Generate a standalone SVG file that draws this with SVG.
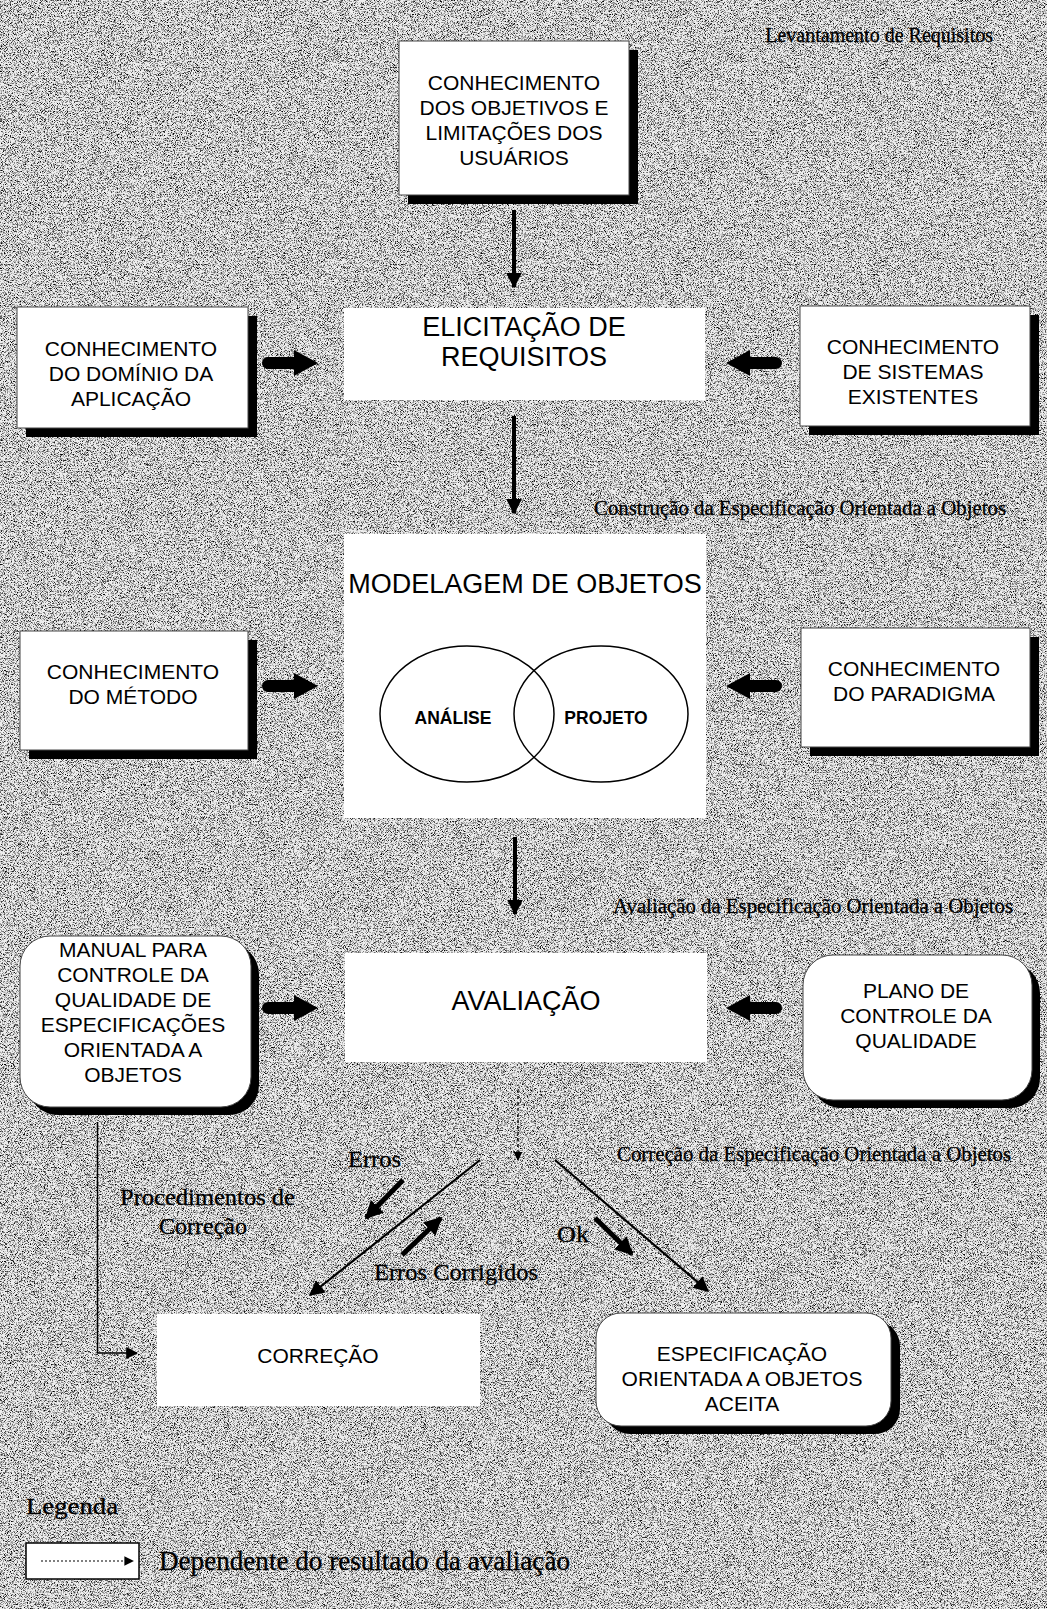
<svg xmlns="http://www.w3.org/2000/svg" width="1047" height="1609" viewBox="0 0 1047 1609">
<style>
.box{fill:#fff;stroke:#444;stroke-width:1}
.plain{fill:#fff}
.sh{fill:#000}
.t{font-family:"Liberation Sans",Arial,sans-serif;font-size:21px;fill:#000;text-anchor:middle}
.big{font-size:27px}
.b{font-weight:bold;font-size:17.5px}
.lbl{font-family:"Liberation Serif","Times New Roman",serif;fill:#000;stroke:#000;stroke-width:0.3}
.ln{stroke:#000;fill:none}
.thick{stroke:#000;stroke-width:5;fill:none}
</style>
<defs>
<filter id="grain" x="0" y="0" width="1" height="1">
<feTurbulence type="fractalNoise" baseFrequency="1.3" numOctaves="2" seed="7"/>
<feColorMatrix type="matrix" values="0 0 0 0 0  0 0 0 0 0  0 0 0 0 0  -3.2 0 0 0 1.72"/>
</filter>
<marker id="ah" viewBox="0 0 10 10" refX="9" refY="5" markerWidth="4" markerHeight="4" orient="auto" markerUnits="strokeWidth">
<path d="M0,0 L10,5 L0,10 Z" fill="#000"/>
</marker>
<marker id="ahd" viewBox="0 0 10 10" refX="9" refY="5" markerWidth="7" markerHeight="7" orient="auto" markerUnits="strokeWidth">
<path d="M0,0 L10,5 L0,10 Z" fill="#000"/>
</marker>
<marker id="ahs" viewBox="0 0 10 10" refX="9" refY="5" markerWidth="8" markerHeight="8" orient="auto" markerUnits="strokeWidth">
<path d="M0,0 L10,5 L0,10 Z" fill="#000"/>
</marker>
<marker id="aht" viewBox="0 0 10 10" refX="9" refY="5" markerWidth="3.6" markerHeight="3.6" orient="auto" markerUnits="strokeWidth">
<path d="M0,0 L10,5 L0,10 Z" fill="#000"/>
</marker>
<path id="fat" d="M-22,-6 L4,-6 L4,-13 L28,0 L4,13 L4,6 L-22,6 A6,6 0 0 1 -22,-6 Z" fill="#000"/>
</defs>

<rect x="0" y="0" width="1047" height="1609" fill="#eeeeee"/>
<rect x="0" y="0" width="1047" height="1609" filter="url(#grain)"/>

<g id="labels">
<text class="lbl" x="993" y="42" font-size="20" text-anchor="end">Levantamento de Requisitos</text>
<text class="lbl" x="1006" y="515" font-size="20" text-anchor="end" textLength="412" lengthAdjust="spacingAndGlyphs">Construção da Especificação Orientada a Objetos</text>
<text class="lbl" x="1013" y="913" font-size="20" text-anchor="end" textLength="400" lengthAdjust="spacingAndGlyphs">Avaliação da Especificação Orientada a Objetos</text>
<text class="lbl" x="1011" y="1161" font-size="20" text-anchor="end" textLength="394" lengthAdjust="spacingAndGlyphs">Correção da Especificação Orientada a Objetos</text>
<text class="lbl" x="348" y="1167" font-size="24" textLength="53" lengthAdjust="spacingAndGlyphs">Erros</text>
<text class="lbl" x="120" y="1205" font-size="23" textLength="175" lengthAdjust="spacingAndGlyphs">Procedimentos de</text>
<text class="lbl" x="159" y="1234" font-size="23" textLength="88" lengthAdjust="spacingAndGlyphs">Correção</text>
<text class="lbl" x="557" y="1242" font-size="24" textLength="32" lengthAdjust="spacingAndGlyphs">Ok</text>
<text class="lbl" x="374" y="1280" font-size="23" textLength="164" lengthAdjust="spacingAndGlyphs">Erros Corrigidos</text>
</g>

<g id="connectors">
<line class="ln" x1="514" y1="210" x2="514" y2="287" style="stroke-width:4" marker-end="url(#ah)"/>
<line class="ln" x1="514" y1="416" x2="514" y2="513" style="stroke-width:4" marker-end="url(#ah)"/>
<line class="ln" x1="515" y1="837" x2="515" y2="914" style="stroke-width:4" marker-end="url(#ah)"/>
<line class="ln" x1="518" y1="1090" x2="518" y2="1160" style="stroke-width:1.3;stroke-dasharray:3,3" marker-end="url(#ahd)"/>
<use href="#fat" x="290" y="363"/>
<use href="#fat" transform="translate(754,363) rotate(180)"/>
<use href="#fat" x="290" y="686"/>
<use href="#fat" transform="translate(754,686) rotate(180)"/>
<use href="#fat" x="290" y="1008"/>
<use href="#fat" transform="translate(754,1008) rotate(180)"/>
<line class="ln" x1="480" y1="1160" x2="310" y2="1295" style="stroke-width:2.2" marker-end="url(#ahd)"/>
<line class="ln" x1="555" y1="1160" x2="708" y2="1291" style="stroke-width:2.2" marker-end="url(#ahd)"/>
<line class="thick" x1="403" y1="1180" x2="366" y2="1218" marker-end="url(#aht)"/>
<line class="thick" x1="402" y1="1255" x2="441" y2="1218" marker-end="url(#aht)"/>
<line class="thick" x1="595" y1="1218" x2="632" y2="1254" marker-end="url(#aht)"/>
<polyline class="ln" points="97.5,1122 97.5,1353 137,1353" style="stroke-width:1.5" marker-end="url(#ahs)"/>
</g>

<g id="n_objetivos">
<rect class="sh" x="408" y="50" width="230" height="154"/>
<rect class="box" x="399" y="41" width="230" height="154"/>
<text class="t" x="514" y="90">CONHECIMENTO</text>
<text class="t" x="514" y="115">DOS OBJETIVOS E</text>
<text class="t" x="514" y="140">LIMITAÇÕES DOS</text>
<text class="t" x="514" y="165">USUÁRIOS</text>
</g>

<g id="n_dominio">
<rect class="sh" x="26" y="316" width="231" height="121"/>
<rect class="box" x="17" y="307" width="231" height="121"/>
<text class="t" x="131" y="356">CONHECIMENTO</text>
<text class="t" x="131" y="381">DO DOMÍNIO DA</text>
<text class="t" x="131" y="406">APLICAÇÃO</text>
</g>

<g id="n_elicitacao">
<rect class="plain" x="344" y="308" width="361" height="92"/>
<text class="t big" x="524" y="336">ELICITAÇÃO DE</text>
<text class="t big" x="524" y="366">REQUISITOS</text>
</g>

<g id="n_sistemas">
<rect class="sh" x="809" y="315" width="230" height="120"/>
<rect class="box" x="800" y="306" width="230" height="120"/>
<text class="t" x="913" y="354">CONHECIMENTO</text>
<text class="t" x="913" y="379">DE SISTEMAS</text>
<text class="t" x="913" y="404">EXISTENTES</text>
</g>

<g id="n_modelagem">
<rect class="plain" x="344" y="534" width="362" height="284"/>
<text class="t big" x="525" y="593">MODELAGEM DE OBJETOS</text>
<ellipse cx="467" cy="714" rx="87" ry="68" fill="none" stroke="#000" stroke-width="1.5"/>
<ellipse cx="601" cy="714" rx="87" ry="68" fill="none" stroke="#000" stroke-width="1.5"/>
<text class="t b" x="453" y="724">ANÁLISE</text>
<text class="t b" x="606" y="724">PROJETO</text>
</g>

<g id="n_metodo">
<rect class="sh" x="29" y="640" width="228" height="119"/>
<rect class="box" x="20" y="631" width="228" height="119"/>
<text class="t" x="133" y="679">CONHECIMENTO</text>
<text class="t" x="133" y="704">DO MÉTODO</text>
</g>

<g id="n_paradigma">
<rect class="sh" x="810" y="637" width="229" height="119"/>
<rect class="box" x="801" y="628" width="229" height="119"/>
<text class="t" x="914" y="676">CONHECIMENTO</text>
<text class="t" x="914" y="701">DO PARADIGMA</text>
</g>

<g id="n_avaliacao">
<rect class="plain" x="345" y="953" width="362" height="109"/>
<text class="t big" x="526" y="1010">AVALIAÇÃO</text>
</g>

<g id="n_manual">
<rect class="sh" x="28" y="944" width="231" height="171" rx="30"/>
<rect class="box" x="20" y="936" width="231" height="171" rx="30"/>
<text class="t" x="133" y="957">MANUAL PARA</text>
<text class="t" x="133" y="982">CONTROLE DA</text>
<text class="t" x="133" y="1007">QUALIDADE DE</text>
<text class="t" x="133" y="1032">ESPECIFICAÇÕES</text>
<text class="t" x="133" y="1057">ORIENTADA A</text>
<text class="t" x="133" y="1082">OBJETOS</text>
</g>

<g id="n_plano">
<rect class="sh" x="811" y="963" width="229" height="145" rx="30"/>
<rect class="box" x="803" y="955" width="229" height="145" rx="30"/>
<text class="t" x="916" y="998">PLANO DE</text>
<text class="t" x="916" y="1023">CONTROLE DA</text>
<text class="t" x="916" y="1048">QUALIDADE</text>
</g>

<g id="n_correcao">
<rect class="plain" x="157" y="1314" width="323" height="92"/>
<text class="t" x="318" y="1363">CORREÇÃO</text>
</g>

<g id="n_aceita">
<rect class="sh" x="605" y="1321" width="295" height="113" rx="25"/>
<rect class="box" x="596" y="1313" width="295" height="113" rx="25"/>
<text class="t" x="742" y="1361">ESPECIFICAÇÃO</text>
<text class="t" x="742" y="1386">ORIENTADA A OBJETOS</text>
<text class="t" x="742" y="1411">ACEITA</text>
</g>

<g id="legend">
<text class="lbl" x="26" y="1514" font-size="24" textLength="92" lengthAdjust="spacingAndGlyphs">Legenda</text>
<rect x="26" y="1543" width="113" height="36" fill="#fff" stroke="#000" stroke-width="1.5"/>
<line x1="41" y1="1561" x2="133" y2="1561" stroke="#000" stroke-width="1.2" stroke-dasharray="2,2" marker-end="url(#ahs)"/>
<text class="lbl" x="159" y="1570" font-size="28" textLength="411" lengthAdjust="spacingAndGlyphs">Dependente do resultado da avaliação</text>
</g>
</svg>
